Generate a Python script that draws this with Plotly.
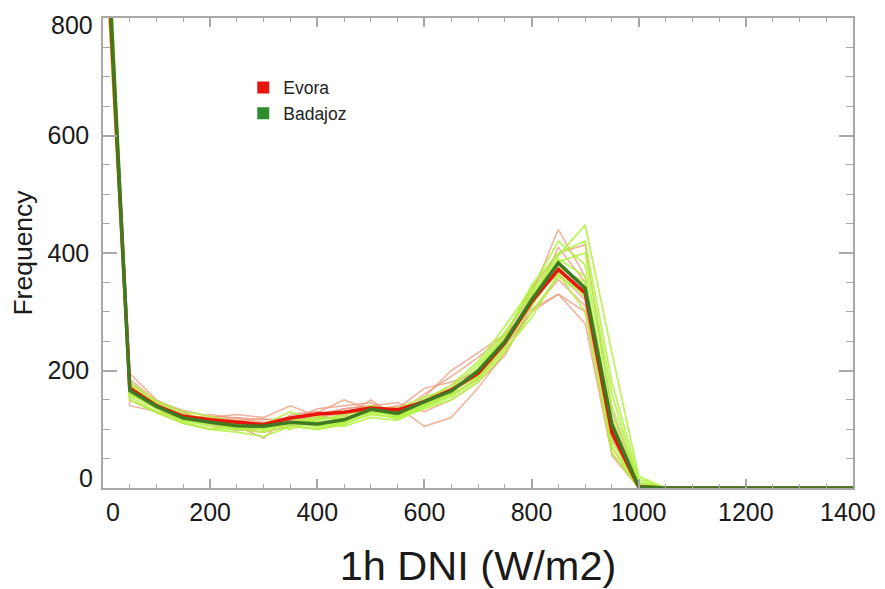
import plotly.graph_objects as go

# DNI bins (W/m2)
dni_bins = [0, 50, 100, 150, 200, 250, 300, 350, 400, 450, 500, 550, 600, 650,
            700, 750, 800, 850, 900, 950, 1000, 1050, 1100, 1150, 1200, 1250,
            1300, 1350, 1400]

# Mean frequencies
evora_mean = [1050, 170, 140, 122, 116, 112, 108, 119, 126, 129, 136, 133, 147, 167,
              195, 247, 317, 372, 332, 94, 2, 0, 0, 0, 0, 0, 0, 0, 0]
badajoz_mean = [1080, 166, 139, 119, 112, 106, 105, 112, 109, 116, 134, 127, 147, 165,
                199, 249, 320, 383, 340, 108, 2, 0, 0, 0, 0, 0, 0, 0, 0]

# Individual year curves
evora_years = [
    [1000, 195, 150, 128, 110, 100, 95, 105, 118, 135, 140, 128, 160, 190, 222, 260, 330, 440, 360, 70, 0, 0, 0, 0, 0, 0, 0, 0, 0],
    [1120, 140, 130, 118, 120, 125, 120, 140, 122, 118, 130, 138, 105, 120, 170, 230, 300, 330, 300, 60, 0, 0, 0, 0, 0, 0, 0, 0, 0],
    [980, 180, 145, 130, 108, 98, 102, 115, 135, 140, 145, 125, 150, 175, 200, 255, 340, 400, 414, 130, 8, 0, 0, 0, 0, 0, 0, 0, 0],
    [1100, 160, 135, 115, 125, 118, 112, 110, 128, 150, 132, 140, 140, 160, 185, 240, 300, 355, 310, 85, 0, 0, 0, 0, 0, 0, 0, 0, 0],
    [1060, 175, 142, 120, 112, 105, 85, 125, 130, 122, 150, 120, 155, 200, 230, 262, 305, 330, 280, 55, 0, 0, 0, 0, 0, 0, 0, 0, 0],
    [1030, 165, 138, 125, 118, 120, 116, 118, 120, 128, 128, 135, 170, 180, 198, 250, 325, 380, 340, 110, 5, 0, 0, 0, 0, 0, 0, 0, 0],
    [1150, 150, 128, 110, 100, 108, 110, 122, 125, 135, 140, 145, 130, 150, 180, 225, 310, 410, 350, 100, 3, 0, 0, 0, 0, 0, 0, 0, 0],
    [1010, 185, 148, 132, 122, 115, 118, 112, 124, 126, 135, 130, 150, 165, 190, 245, 320, 365, 320, 90, 0, 0, 0, 0, 0, 0, 0, 0, 0],
]
badajoz_years = [
    [1100, 155, 130, 115, 105, 100, 95, 108, 100, 110, 125, 120, 140, 160, 205, 260, 335, 395, 448, 230, 20, 0, 0, 0, 0, 0, 0, 0, 0],
    [1050, 175, 145, 125, 118, 110, 105, 118, 112, 118, 130, 125, 145, 170, 210, 265, 330, 390, 360, 120, 5, 0, 0, 0, 0, 0, 0, 0, 0],
    [1130, 160, 135, 112, 100, 95, 88, 105, 100, 108, 128, 118, 135, 150, 180, 230, 300, 360, 330, 70, 0, 0, 0, 0, 0, 0, 0, 0, 0],
    [1060, 170, 140, 122, 115, 108, 102, 110, 115, 125, 140, 130, 150, 175, 215, 275, 340, 420, 380, 140, 10, 0, 0, 0, 0, 0, 0, 0, 0],
    [990, 150, 128, 110, 100, 102, 108, 130, 112, 105, 120, 115, 138, 155, 185, 235, 290, 365, 300, 60, 0, 0, 0, 0, 0, 0, 0, 0, 0],
    [1140, 180, 148, 130, 122, 112, 110, 100, 118, 120, 138, 135, 155, 168, 190, 240, 310, 375, 350, 100, 3, 0, 0, 0, 0, 0, 0, 0, 0],
    [1070, 162, 138, 118, 112, 102, 100, 120, 105, 112, 132, 122, 142, 162, 200, 258, 345, 400, 420, 180, 15, 0, 0, 0, 0, 0, 0, 0, 0],
    [1020, 168, 136, 125, 110, 100, 104, 108, 122, 115, 130, 128, 150, 165, 195, 245, 315, 370, 325, 80, 0, 0, 0, 0, 0, 0, 0, 0, 0],
    [1100, 158, 142, 115, 108, 115, 98, 112, 104, 112, 135, 120, 140, 158, 188, 248, 325, 385, 400, 160, 8, 0, 0, 0, 0, 0, 0, 0, 0],
]

x_ticks = [0, 200, 400, 600, 800, 1000, 1200, 1400]
x_ticktext = ["", "200", "400", "600", "800", "1000", "1200", ""]
y_ticks = [0, 200, 400, 600, 800]
y_ticktext = ["", "200", "400", "600", ""]
legend_names = ["Evora", "Badajoz"]
legend_colors = ["#e8150c", "#2e8b2e"]

FONT = "Liberation Sans, Arial, Helvetica, sans-serif"
TXT = "#1a1a1a"

fig = go.Figure()

for ys in evora_years:
    fig.add_trace(go.Scatter(x=dni_bins, y=ys, mode="lines",
                             line=dict(color="rgba(238,150,120,0.75)", width=1.5),
                             showlegend=False, hoverinfo="skip"))
for ys in badajoz_years:
    fig.add_trace(go.Scatter(x=dni_bins, y=ys, mode="lines",
                             line=dict(color="rgba(178,242,64,0.85)", width=1.8),
                             showlegend=False, hoverinfo="skip"))

fig.add_trace(go.Scatter(x=dni_bins, y=evora_mean, mode="lines",
                         line=dict(color="#e8150c", width=3.5), showlegend=False))
fig.add_trace(go.Scatter(x=dni_bins, y=badajoz_mean, mode="lines",
                         line=dict(color="#3f7a22", width=3.5), showlegend=False))

for name, col in zip(legend_names, legend_colors):
    fig.add_trace(go.Scatter(x=[None], y=[None], mode="markers", name=name,
                             marker=dict(symbol="square", size=8, color=col)))

axis_common = dict(
    showline=True, linecolor="#a8a8a8", linewidth=1.5, mirror="ticks",
    ticks="inside", tickcolor="#a8a8a8", tickwidth=1.5,
    showgrid=False, zeroline=False,
    tickfont=dict(family=FONT, size=25, color=TXT),
    automargin=False,
)

fig.update_xaxes(
    range=[0, 1400], tickvals=x_ticks, ticktext=x_ticktext, ticklen=9,
    minor=dict(dtick=50, ticklen=4.5, ticks="inside", tickcolor="#a8a8a8", tickwidth=1.2),
    title=dict(text="1h DNI (W/m2)", font=dict(family=FONT, size=41.5, color=TXT), standoff=34),
    ticklabelstandoff=1,
    **axis_common,
)
fig.update_yaxes(
    range=[0, 800], tickvals=y_ticks, ticktext=y_ticktext, ticklen=14,
    minor=dict(dtick=50, ticklen=7, ticks="inside", tickcolor="#a8a8a8", tickwidth=1.2),
    title=dict(text="Frequency", font=dict(family=FONT, size=26.5, color=TXT), standoff=17),
    ticklabelstandoff=7,
    **axis_common,
)

# edge tick labels, nudged inward as in the original
edge_font = dict(family=FONT, size=25, color=TXT)
fig.add_annotation(text=str(x_ticks[0]), xref="x", x=x_ticks[0], yref="paper", y=0,
                   xanchor="center", yanchor="middle", xshift=10, yshift=-24,
                   showarrow=False, font=edge_font)
fig.add_annotation(text=str(x_ticks[-1]), xref="x", x=x_ticks[-1], yref="paper", y=0,
                   xanchor="center", yanchor="middle", xshift=-5, yshift=-24,
                   showarrow=False, font=edge_font)
fig.add_annotation(text=str(y_ticks[0]), xref="paper", x=0, yref="y", y=y_ticks[0],
                   xanchor="right", yanchor="middle", xshift=-8, yshift=10,
                   showarrow=False, font=edge_font)
fig.add_annotation(text=str(y_ticks[-1]), xref="paper", x=0, yref="y", y=y_ticks[-1],
                   xanchor="right", yanchor="middle", xshift=-8, yshift=-7,
                   showarrow=False, font=edge_font)

# the page body has an 8px margin, so the figure is offset by 8px
fig.update_layout(
    width=877, height=581,
    margin=dict(l=95, r=32, t=10, b=101),
    paper_bgcolor="white", plot_bgcolor="white",
    legend=dict(x=0.187, y=0.89, xanchor="left", yanchor="top",
                bgcolor="rgba(0,0,0,0)", font=dict(family=FONT, size=17.5, color="#222"),
                tracegroupgap=0, itemsizing="constant"),
)

fig.write_html("out.html")
